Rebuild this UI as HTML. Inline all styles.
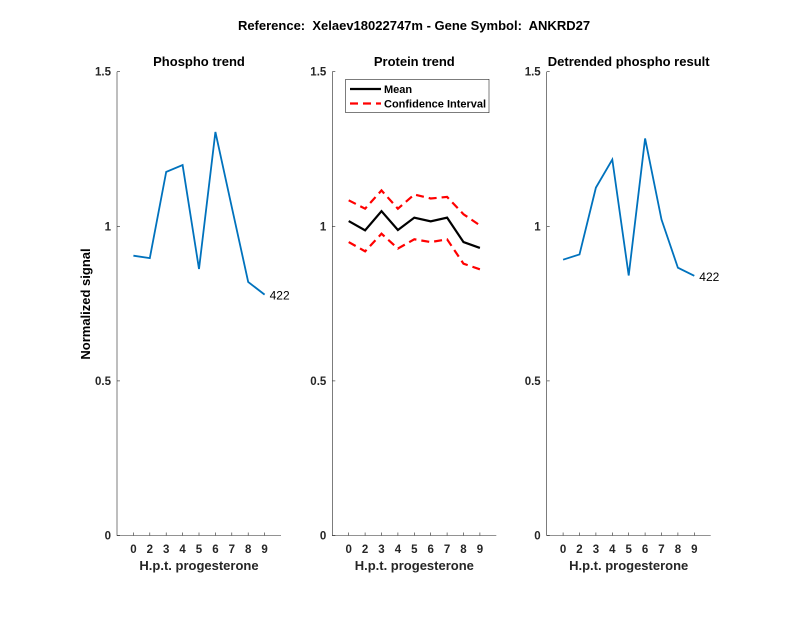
<!DOCTYPE html>
<html><head><meta charset="utf-8"><style>
body{margin:0;background:#fff;}
svg{display:block;font-family:"Liberation Sans",sans-serif;}
</style></head><body>
<svg id="c" width="800" height="618">
<rect width="800" height="618" fill="#fff"/>
<text x="414" y="30" text-anchor="middle" font-size="13" font-weight="bold" style="white-space:pre">Reference:  Xelaev18022747m - Gene Symbol:  ANKRD27</text>
<text transform="translate(90,304) rotate(-90)" text-anchor="middle" font-size="13" font-weight="bold">Normalized signal</text>
</svg>
<script>
const categories=["0","2","3","4","5","6","7","8","9"];
const yTicks=[0,0.5,1,1.5];
const yTickLabels=["0","0.5","1","1.5"];
const phosphoValues=[0.905,0.897,1.176,1.198,0.862,1.305,1.062,0.82,0.779];
const proteinMean=[1.017,0.987,1.049,0.988,1.028,1.016,1.028,0.949,0.93];
const proteinUpper=[1.084,1.057,1.116,1.057,1.103,1.09,1.095,1.039,1.003];
const proteinLower=[0.949,0.919,0.976,0.928,0.958,0.949,0.958,0.879,0.861];
const detrendedValues=[0.892,0.909,1.125,1.216,0.841,1.284,1.022,0.866,0.840];
const peptideLabel="422";

const svg=document.getElementById('c');
const NS="http://www.w3.org/2000/svg";
const TOP=71.7,BOT=535.5,W=164;
function mk(tag,attrs,parent){const e=document.createElementNS(NS,tag);for(const k in attrs)e.setAttribute(k,attrs[k]);(parent||svg).appendChild(e);return e;}
function yS(v){return BOT-(v/1.5)*(BOT-TOP);}
function axes(left,title,name){
  const g=mk('g',{});
  
  
  const xS=i=>left+(i+1)*W/10;
  const ax=mk('path',{d:`M${left},${TOP}V${BOT}H${left+W}`,stroke:'#262626','stroke-width':0.6,fill:'none'},g);
  
  
  yTicks.forEach((t,k)=>{
    mk('line',{x1:left,x2:left+3,y1:yS(t),y2:yS(t),stroke:'#262626','stroke-width':0.6},g);
    const tl=mk('text',{x:left-6,y:yS(t)+4,'text-anchor':'end','font-size':11.5,'font-weight':'bold',fill:'#262626'},g);
    tl.textContent=yTickLabels[k];
    
    
  });
  categories.forEach((c,i)=>{
    mk('line',{x1:xS(i),x2:xS(i),y1:BOT,y2:BOT-3,stroke:'#262626','stroke-width':0.6},g);
    const tl=mk('text',{x:xS(i),y:553,'text-anchor':'middle','font-size':11.5,'font-weight':'bold',fill:'#262626'},g);
    tl.textContent=c;
    
    
  });
  const xl=mk('text',{x:left+W/2,y:570,'text-anchor':'middle','font-size':13,'font-weight':'bold',fill:'#262626'},g);
  xl.textContent="H.p.t. progesterone";
  
  
  const tt=mk('text',{x:left+W/2,y:66,'text-anchor':'middle','font-size':13,'font-weight':'bold'},g);
  tt.textContent=title;
  
  
  return {g,xS};
}
function line(a,vals,attrs,name){
  const p=mk('polyline',Object.assign({points:vals.map((v,i)=>a.xS(i)+','+yS(v)).join(' '),fill:'none'},attrs),a.g);
  
  
}
function endLabel(a,vals){
  const n=vals.length-1;
  const t=mk('text',{x:a.xS(n)+5,y:yS(vals[n])+5,'font-size':12},a.g);
  t.textContent=peptideLabel;
  
  
}
const a1=axes(117,"Phospho trend","phospho-trend-panel");
line(a1,phosphoValues,{stroke:'#0072BD','stroke-width':1.8},'phospho-line');
endLabel(a1,phosphoValues);
const a2=axes(332.3,"Protein trend","protein-trend-panel");
line(a2,proteinUpper,{stroke:'#ff0000','stroke-width':2.2,'stroke-dasharray':'8,5'},'ci-upper-line');
line(a2,proteinLower,{stroke:'#ff0000','stroke-width':2.2,'stroke-dasharray':'8,5'},'ci-lower-line');
line(a2,proteinMean,{stroke:'#000','stroke-width':2.2},'mean-line');
const lg=mk('g',{},a2.g);


mk('rect',{x:345.7,y:79.3,width:143.3,height:33.4,fill:'#fff',stroke:'#262626','stroke-width':0.6},lg);
mk('line',{x1:350,x2:381,y1:89,y2:89,stroke:'#000','stroke-width':2.2},lg);
mk('line',{x1:350,x2:381,y1:103.5,y2:103.5,stroke:'#ff0000','stroke-width':2.2,'stroke-dasharray':'8,5'},lg);
const l1=mk('text',{x:384,y:93,'font-size':11,'font-weight':'bold'},lg);l1.textContent="Mean";


const l2=mk('text',{x:384,y:107.5,'font-size':11,'font-weight':'bold'},lg);l2.textContent="Confidence Interval";


const a3=axes(546.7,"Detrended phospho result","detrended-panel");
line(a3,detrendedValues,{stroke:'#0072BD','stroke-width':1.8},'detrended-line');
endLabel(a3,detrendedValues);
</script>
</body></html>
